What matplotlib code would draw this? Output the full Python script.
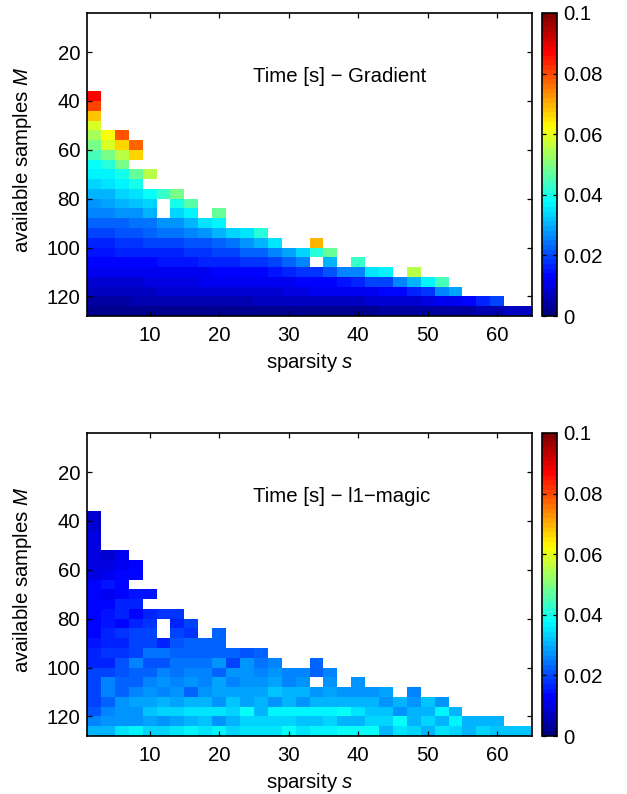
import numpy as np
import matplotlib
matplotlib.use('Agg')
import matplotlib.pyplot as plt
from matplotlib.colors import LinearSegmentedColormap

plt.rcParams['font.family'] = ['Liberation Sans', 'DejaVu Sans']
plt.rcParams['mathtext.fontset'] = 'custom'
plt.rcParams['mathtext.it'] = 'Liberation Sans:italic'
plt.rcParams['mathtext.rm'] = 'Liberation Sans'

n = np.nan

# values in ms, one list per row of M (36, 40, ... 124), from the left column
gradient_rows = [
    [87], [80], [68], [58],
    [54, 62, 79],
    [49, 58, 66, 77],
    [44, 49, 55, 67],
    [39, 42, 49],
    [36, 37.5, 40, 48, 55],
    [33, 35, 37.5, 40],
    [30, 31, 33, 35, 38, 43, 49],
    [28, 29, 30, 32, 34, n, 40, 46],
    [25, 26, 27, 27, 30, n, 34, 36, n, 48],
    [22, 23, 23, 24, 24, 27, 28, 30, 35, 36],
    [20, 20, 21, 21, 22, 24, 24, 25, 27, 30, 33, 35, 42],
    [17, 17, 18, 18, 19, 20, 20, 21, 21, 23, 24, 27, 31, 35, n, n, 69],
    [15, 15, 16, 16, 16, 17, 17, 18, 18, 19, 19, 22, 23, 26, 29, 34, 41, 47],
    [13, 13, 13, 13, 14, 15, 15, 15, 16, 16, 17, 18, 18, 19, 22, 25, n, 31, n, 43],
    [11, 11, 11, 11, 11, 11, 12, 12, 12, 13, 13, 14, 14, 15, 16, 18, 18, 21, 25, 26, 35, 37, n, 56],
    [9, 9, 9, 9, 10, 10, 10, 10, 11, 11, 11, 11, 11, 12, 12, 12.5, 12.5, 14, 15, 17, 20, 20, 25, 30, 37.5, 44],
    [7, 7, 7, 7, 7, 8, 8, 8, 8, 8, 8, 9, 9, 9, 10, 10, 11, 11, 11, 12, 12, 14, 14, 17, 18, 25, 29],
    [4.5, 4.5, 4.5, 5, 5, 5, 5.5, 5.5, 5.5, 6, 6, 6, 6.5, 6.5, 7, 7, 7, 7, 7.5, 7.5, 8, 8, 8, 9, 10, 11, 12, 13, 16, 20],
    [3, 2.5, 2.5, 2.5, 2.5, 2.5, 2.5, 2.5, 3, 3, 3, 3, 3, 3, 3, 3, 3, 3, 3, 3, 3, 3.5, 3.5, 3.5, 3.5, 4, 4, 4, 5, 6, 7, 7.5],
]

l1magic_rows = [
    [9], [9], [9.5], [10],
    [10, 8.5, 11],
    [10.5, 9.5, 12, 13],
    [9.5, 11.5, 12.5, 13.5],
    [12.5, 15, 13],
    [12.5, 11.5, 14, 15, 15],
    [12.5, 14, 16, 16],
    [13, 15, 16, 14, 16, 18, 18],
    [13, 15, 14, 17, 18, n, 16, 19],
    [14, 16, 18, 20, 19, n, 19, 18, n, 23],
    [15, 17, 16, 20, 20, 17, 21, 22, 23, 23],
    [17, 18, 18, 19, 24, 24, 22, 22, 23, 23, 23, 21, 23],
    [17, 17, 21, 25, 21, 21, 24, 24, 24, 27, 19, 27, 24, 25, n, n, 22],
    [19, 19, 21, 23, 22, 26, 24, 26, 25, 23, 27, 27, 25, 27, 26, 26, 22, 26],
    [20, 25, 23, 23, 26, 27, 25, 27, 25, 29, 26, 28, 27, 29, 25, 28, n, 28, n, 27],
    [20, 25, 22, 26, 27, 25, 27, 23, 27, 29, 29, 29, 29, 32, 30, 30, 27, 29, 27, 27, 27, 29, n, 26],
    [20, 23, 27, 29, 29, 30, 29, 31, 31, 28, 32, 29, 31, 28, 30, 28, 30, 30, 31, 31, 31, 28, 30, 28, 32, 28],
    [21, 26, 27, 27, 32, 33, 33, 35, 35, 35, 33, 39, 31, 37, 37, 37, 36, 36, 39, 35, 32, 32, 28, 30, 31, 36, 31],
    [25, 27, 27, 27, 29, 27, 29, 31, 32, 28, 31, 33, 33, 33, 33, 32, 32, 33, 31, 31, 34, 34, 38, 31, 34, 31, 37, 31, 31, 31],
    [31, 30, 35, 37.5, 33, 34, 35, 36, 35, 37, 33, 35, 35, 35, 38, 35, 37, 37, 38, 38, 39, 31, 35, 33, 31, 35, 33, 31, 34, 32, 32, 32],
]

s_edges = np.arange(1, 66, 2)
m_edges = np.arange(36, 129, 4)
x_ticks = [10, 20, 30, 40, 50, 60]
y_ticks = [20, 40, 60, 80, 100, 120]
cbar_ticks = [0, 0.02, 0.04, 0.06, 0.08, 0.1]
cbar_labels = ['0', '0.02', '0.04', '0.06', '0.08', '0.1']

# matlab style jet
jet = LinearSegmentedColormap.from_list('mjet', [
    (0, (0, 0, 0.5)), (1/8, (0, 0, 1)), (3/8, (0, 1, 1)),
    (5/8, (1, 1, 0)), (7/8, (1, 0, 0)), (1, (0.5, 0, 0))], N=64)
jet.set_bad('white')


def to_grid(rows):
    grid = np.full((len(rows), len(s_edges) - 1), np.nan)
    for i, row in enumerate(rows):
        grid[i, :len(row)] = row
    return grid / 1000.0


W, H = 627.0, 794.0
fig = plt.figure(figsize=(W / 100, H / 100), dpi=100)


def panel(rows, title, top):
    ax = fig.add_axes([87 / W, 1 - (top + 303) / H, 445 / W, 303 / H])
    mesh = ax.pcolormesh(s_edges, m_edges, to_grid(rows), cmap=jet, vmin=0, vmax=0.1)
    ax.set_xlim(1, 65)
    ax.set_ylim(128, 4)
    ax.set_xticks(x_ticks)
    ax.set_yticks(y_ticks)
    ax.tick_params(direction='in', length=3.5, width=0.9, labelsize=14.7, pad=5,
                   top=True, right=True)
    ax.tick_params(axis='x', pad=7)
    ax.set_xlabel('sparsity $s$', fontsize=14.7, va='center')
    ax.set_ylabel('available samples $M$', fontsize=14.7, va='center')
    ax.xaxis.set_label_coords(0.5, -0.152)
    ax.yaxis.set_label_coords(-0.144, 0.515)
    ax.text(0.373, 0.789, title, transform=ax.transAxes, fontsize=14.7, va='center')

    cax = fig.add_axes([542 / W, 1 - (top + 303) / H, 15 / W, 303 / H])
    cb = fig.colorbar(mesh, cax=cax, ticks=cbar_ticks)
    cb.ax.set_yticklabels(cbar_labels)
    cb.ax.tick_params(direction='in', length=3, width=0.9, labelsize=14.7, pad=4.5,
                      left=True, right=True)
    cb.outline.set_linewidth(1.2)
    for spine in ax.spines.values():
        spine.set_linewidth(1.2)


panel(gradient_rows, 'Time [s] \u2212 Gradient', 13)
panel(l1magic_rows, 'Time [s] \u2212 l1\u2212magic', 433)

plt.savefig('out.png', dpi=100)
